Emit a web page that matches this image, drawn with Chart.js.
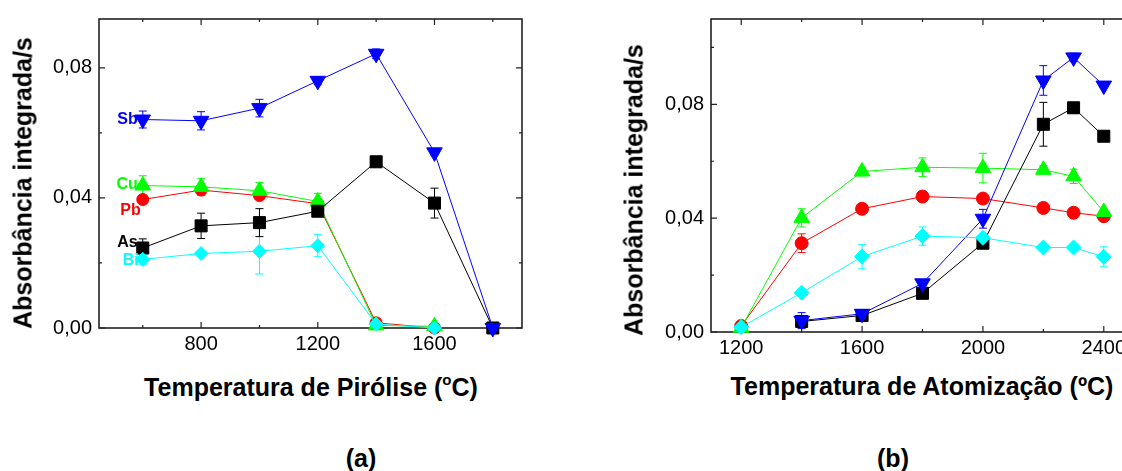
<!DOCTYPE html>
<html>
<head>
<meta charset="utf-8">
<script src="https://cdn.jsdelivr.net/npm/chart.js@4.4.1/dist/chart.umd.min.js"></script>
<style>
html, body { margin: 0; padding: 0; background: #fff; overflow: hidden; width: 1122px; height: 471px; }
#wrap { position: relative; width: 1122px; height: 471px; overflow: hidden; font-family: "Liberation Sans", Arial, sans-serif; }
canvas { position: absolute; }
.t { position: absolute; font-weight: bold; font-size: 25px; white-space: nowrap; color: #000; line-height: 1; transform: translate(-50%, -50%); }
.rot { transform: translate(-50%, -50%) rotate(-90deg); }
</style>
</head>
<body>
<div id="wrap">
  <canvas id="chartA" width="560" height="360" style="left:0px;top:0px"></canvas>
  <canvas id="chartB" width="560" height="360" style="left:600px;top:0px"></canvas>
  <div class="t rot" style="left:23px;top:183px">Absorbância integrada/s</div>
  <div class="t rot" style="left:634px;top:190px">Absorbância integrada/s</div>
  <div class="t" style="left:311px;top:386px">Temperatura de Pirólise (<sup style="font-size:60%;vertical-align:70%">o</sup>C)</div>
  <div class="t" style="left:922px;top:386px">Temperatura de Atomização (ºC)</div>
  <div class="t" style="left:361px;top:458px">(a)</div>
  <div class="t" style="left:893px;top:458px">(b)</div>
</div>
<script>
// ---- panel (a): pyrolysis temperature ----
var tempPirolise = [600, 800, 1000, 1200, 1400, 1600, 1800];
var asA = [0.0246, 0.0314, 0.0324, 0.0359, 0.0511, 0.0384, 0.0];
var asAErr = [0.0028, 0.0039, 0.0043, 0.0010, 0.0008, 0.0046, 0];
var sbA = [0.0641, 0.0637, 0.0676, 0.0760, 0.0843, 0.0540, 0.0];
var sbAErr = [0.0026, 0.0028, 0.0027, 0.0012, 0.0015, 0.0008, 0];
var cuA = [0.0438, 0.0434, 0.0422, 0.0389, 0.0008, 0.0005];
var cuAErr = [0.0030, 0.0025, 0.0025, 0.0025, 0, 0];
var pbA = [0.0395, 0.0424, 0.0407, 0.0382, 0.0016, 0.0];
var pbAErr = [0.0010, 0.0015, 0.0010, 0.0010, 0.0008, 0];
var biA = [0.0211, 0.0229, 0.0236, 0.0253, 0.0012, 0.0];
var biAErr = [0.0015, 0.0008, 0.0070, 0.0034, 0, 0];
var xTicksA = [600, 800, 1000, 1200, 1400, 1600, 1800];
var xLabelsA = [800, 1200, 1600];

// ---- panel (b): atomization temperature ----
var tempAtom = [1200, 1400, 1600, 1800, 2000, 2200, 2300, 2400];
var asB = [null, 0.0037, 0.0058, 0.0136, 0.0312, 0.0730, 0.0788, 0.0688];
var asBErr = [0, 0.0012, 0.0008, 0.0008, 0.0008, 0.0077, 0, 0];
var sbB = [null, 0.0040, 0.0064, 0.0171, 0.0398, 0.0884, 0.0965, 0.0866];
var sbBErr = [0, 0.0028, 0.0012, 0.0008, 0.0033, 0.0052, 0.0015, 0];
var cuB = [0.0015, 0.0401, 0.0564, 0.0579, 0.0576, 0.0570, 0.0547, 0.0422];
var cuBErr = [0, 0.0032, 0.0015, 0.0033, 0.0052, 0.0015, 0.0025, 0.0010];
var pbB = [0.0021, 0.0312, 0.0433, 0.0476, 0.0469, 0.0436, 0.0419, 0.0407];
var pbBErr = [0, 0.0033, 0.0010, 0.0010, 0.0015, 0.0010, 0.0010, 0.0010];
var biB = [0.0017, 0.0138, 0.0265, 0.0337, 0.0331, 0.0297, 0.0297, 0.0264];
var biBErr = [0, 0.0010, 0.0043, 0.0032, 0.0010, 0.0008, 0.0008, 0.0035];
var xTicksB = [1200, 1400, 1600, 1800, 2000, 2200, 2400];
var xLabelsB = [1200, 1600, 2000, 2400];

var yTicksA = [0, 0.02, 0.04, 0.06, 0.08];
var yTicksB = [0, 0.02, 0.04, 0.06, 0.08, 0.10];
var yLabels = [0, 0.04, 0.08];

Chart.defaults.font.family = '"Liberation Sans", Arial, sans-serif';
Chart.defaults.font.size = 20;
Chart.defaults.color = '#000';

function pts(xs, ys) {
    var out = [];
    for (var i = 0; i < ys.length; i++) {
        if (ys[i] !== null) out.push({ x: xs[i], y: ys[i] });
    }
    return out;
}
function errs(ys, es) {
    var out = [];
    for (var i = 0; i < ys.length; i++) {
        if (ys[i] !== null) out.push(es[i]);
    }
    return out;
}

function series(label, xs, ys, es, color, style, radius, rotation) {
    return {
        label: label,
        data: pts(xs, ys),
        errors: errs(ys, es),
        borderColor: color,
        backgroundColor: color,
        borderWidth: 1,
        pointStyle: style,
        pointRadius: radius,
        pointRotation: rotation || 0,
        pointBorderWidth: 1,
        pointBackgroundColor: color,
        pointBorderColor: color,
        clip: false,
        tension: 0
    };
}

// frame box with inward ticks on all four sides
var frameTicks = {
    id: 'frameTicks',
    beforeDatasetsDraw: function (chart) {
        var ctx = chart.ctx, a = chart.chartArea, x = chart.scales.x, y = chart.scales.y;
        ctx.save();
        ctx.strokeStyle = '#222';
        ctx.lineWidth = 1.6;
        ctx.strokeRect(a.left, a.top, a.right - a.left, a.bottom - a.top);
        ctx.lineWidth = 1.2;
        ctx.beginPath();
        x.ticks.forEach(function (t) {
            var px = x.getPixelForValue(t.value);
            var len = t.label ? 6 : 3;
            ctx.moveTo(px, a.bottom); ctx.lineTo(px, a.bottom - len);
            ctx.moveTo(px, a.top); ctx.lineTo(px, a.top + len);
        });
        y.ticks.forEach(function (t) {
            var py = y.getPixelForValue(t.value);
            var len = t.label ? 6 : 3;
            ctx.moveTo(a.left, py); ctx.lineTo(a.left + len, py);
            ctx.moveTo(a.right, py); ctx.lineTo(a.right - len, py);
        });
        ctx.stroke();
        ctx.restore();
    }
};

// vertical error bars with caps
var errorBars = {
    id: 'errorBars',
    beforeDatasetsDraw: function (chart) {
        var ctx = chart.ctx, y = chart.scales.y;
        ctx.save();
        ctx.lineWidth = 1;
        chart.data.datasets.forEach(function (ds, di) {
            var meta = chart.getDatasetMeta(di);
            ctx.strokeStyle = ds.borderColor;
            ds.data.forEach(function (p, i) {
                var e = ds.errors[i];
                if (!e) return;
                var px = meta.data[i].x;
                var top = y.getPixelForValue(p.y + e);
                var bot = y.getPixelForValue(p.y - e);
                ctx.beginPath();
                ctx.moveTo(px, top); ctx.lineTo(px, bot);
                ctx.moveTo(px - 4, top); ctx.lineTo(px + 4, top);
                ctx.moveTo(px - 4, bot); ctx.lineTo(px + 4, bot);
                ctx.stroke();
            });
        });
        ctx.restore();
    }
};

// element names written beside the first point of each series
var seriesLabels = {
    id: 'seriesLabels',
    afterDatasetsDraw: function (chart, args, opts) {
        if (!opts.items) return;
        var ctx = chart.ctx;
        ctx.save();
        ctx.font = 'bold 16px "Liberation Sans", Arial, sans-serif';
        ctx.textAlign = 'right';
        ctx.textBaseline = 'middle';
        opts.items.forEach(function (it) {
            var ds = chart.data.datasets[it.dataset];
            var el = chart.getDatasetMeta(it.dataset).data[0];
            ctx.fillStyle = ds.borderColor;
            ctx.fillText(ds.label, el.x + it.dx, el.y + it.dy);
        });
        ctx.restore();
    }
};

function makeChart(id, datasets, xr, yr, xTicks, xLabels, yTicks, box, labelItems) {
    var ctx = document.getElementById(id).getContext('2d');
    return new Chart(ctx, {
        type: 'line',
        data: { datasets: datasets },
        options: {
            responsive: false,
            animation: false,
            devicePixelRatio: 1,
            layout: { autoPadding: false, padding: { top: box.top, right: box.right, left: 0, bottom: 0 } },
            plugins: { legend: { display: false }, tooltip: { enabled: false }, seriesLabels: { items: labelItems } },
            scales: {
                x: {
                    type: 'linear', min: xr[0], max: xr[1],
                    grid: { display: false, drawTicks: false },
                    border: { display: false },
                    afterBuildTicks: function (s) { s.ticks = xTicks.map(function (v) { return { value: v }; }); },
                    afterFit: function (s) { s.height = box.xh; },
                    ticks: {
                        padding: 4, autoSkip: false, maxRotation: 0,
                        callback: function (v) { return xLabels.indexOf(v) >= 0 ? String(v) : ''; }
                    }
                },
                y: {
                    min: yr[0], max: yr[1],
                    grid: { display: false, drawTicks: false },
                    border: { display: false },
                    afterBuildTicks: function (s) { s.ticks = yTicks.map(function (v) { return { value: v }; }); },
                    afterFit: function (s) { s.width = box.yw; },
                    ticks: {
                        padding: 7, autoSkip: false,
                        callback: function (v) {
                            var r = Math.round(v * 100) / 100;
                            return yLabels.indexOf(r) >= 0 ? r.toFixed(2).replace('.', ',') : '';
                        }
                    }
                }
            }
        },
        plugins: [frameTicks, errorBars, seriesLabels]
    });
}

makeChart('chartA', [
    series('Bi', tempPirolise, biA, biAErr, '#00ffff', 'rectRot', 7),
    series('Sb', tempPirolise, sbA, sbAErr, '#0000ff', 'triangle', 9, 180),
    series('As', tempPirolise, asA, asAErr, '#000000', 'rect', 8.5),
    series('Cu', tempPirolise, cuA, cuAErr, '#00ff00', 'triangle', 9),
    series('Pb', tempPirolise, pbA, pbAErr, '#ff0000', 'circle', 6)
], [450, 1900], [0, 0.095], xTicksA, xLabelsA, yTicksA,
   { top: 13, right: 38, xh: 32, yw: 99 },
   [
       { dataset: 1, dx: -5, dy: 0 },
       { dataset: 3, dx: -5, dy: -1 },
       { dataset: 4, dx: -2, dy: 11 },
       { dataset: 2, dx: -5, dy: -5 },
       { dataset: 0, dx: -4, dy: 1 }
   ]);

makeChart('chartB', [
    series('Bi', tempAtom, biB, biBErr, '#00ffff', 'rectRot', 7.5),
    series('Sb', tempAtom, sbB, sbBErr, '#0000ff', 'triangle', 9, 180),
    series('As', tempAtom, asB, asBErr, '#000000', 'rect', 8.5),
    series('Cu', tempAtom, cuB, cuBErr, '#00ff00', 'triangle', 9),
    series('Pb', tempAtom, pbB, pbBErr, '#ff0000', 'circle', 6.5)
], [1100, 2500], [0, 0.11], xTicksB, xLabelsB, yTicksB,
   { top: 16, right: 26, xh: 28, yw: 111 },
   null);
</script>
</body>
</html>
